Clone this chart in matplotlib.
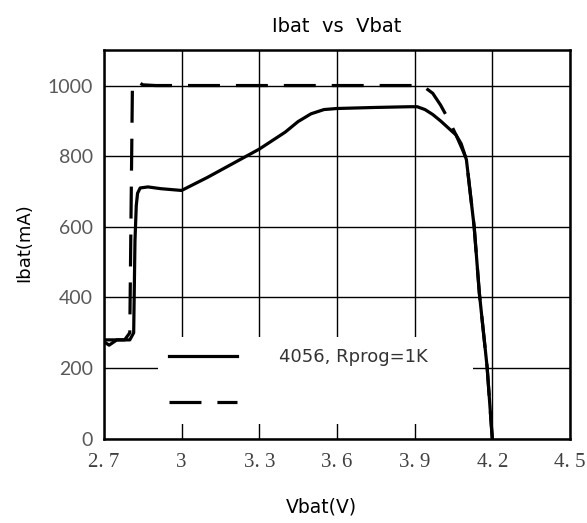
import numpy as np
import matplotlib
matplotlib.use('Agg')
import matplotlib.pyplot as plt

# charge current vs battery voltage
vbat_solid = [2.70, 2.72, 2.75, 2.80, 2.815, 2.82, 2.825, 2.83, 2.84, 2.87, 2.92, 3.00,
              3.10, 3.20, 3.30, 3.40, 3.45, 3.50, 3.55, 3.60, 3.75, 3.88, 3.91, 3.94,
              3.97, 4.00, 4.03, 4.06, 4.08, 4.10, 4.13, 4.15, 4.18, 4.20]
ibat_solid = [275, 265, 280, 280, 300, 560, 660, 695, 710, 713, 708, 703,
              740, 780, 820, 868, 898, 920, 932, 935, 938, 940, 940, 932,
              918, 900, 880, 860, 835, 790, 600, 412, 203, 0]

vbat_dash = [2.70, 2.78, 2.80, 2.805, 2.81, 2.815, 2.83, 2.85, 2.90, 3.30, 3.60, 3.93,
             3.97, 4.00, 4.03, 4.06, 4.09, 4.10, 4.13, 4.15, 4.18, 4.20]
ibat_dash = [280, 280, 300, 650, 990, 1008, 1012, 1002, 1000, 1000, 1000, 1000,
             978, 945, 905, 860, 810, 790, 600, 412, 203, 0]

xticks = [2.7, 3.0, 3.3, 3.6, 3.9, 4.2, 4.5]
xticklabels = ['2. 7', '3', '3. 3', '3. 6', '3. 9', '4. 2', '4. 5']
yticks = [0, 200, 400, 600, 800, 1000]

fig = plt.figure(figsize=(5.87, 5.23), dpi=100)
ax = fig.add_axes([0.177, 0.161, 0.794, 0.743])

ax.plot(vbat_solid, ibat_solid, color='black', lw=2.3, label='4056, Rprog=1K      ', zorder=3)
ax.plot(vbat_dash, ibat_dash, color='black', lw=2.3, ls=(0, (10, 5)), label=' ', zorder=3)

ax.set_xlim(2.7, 4.5)
ax.set_ylim(0, 1100)
ax.set_xticks(xticks)
ax.set_xticklabels(xticklabels, fontfamily='Liberation Serif', fontsize=15, color='#404040')
ax.set_yticks(yticks)
ax.set_yticklabels([str(v) for v in yticks], fontfamily='Lato', fontsize=14, color='#595959')
ax.tick_params(length=0, pad=10)
ax.tick_params(axis='y', pad=8)
ax.grid(True, color='black', lw=1.0, zorder=1)
ax.set_axisbelow(True)
for s in ax.spines.values():
    s.set_linewidth(1.8)

ax.set_title('Ibat  vs  Vbat', fontsize=14, fontfamily='DejaVu Sans', pad=13)
ax.set_xlabel('Vbat(V)', fontsize=13.5, fontfamily='DejaVu Sans')
ax.set_ylabel('Ibat(mA)', fontsize=13, fontfamily='DejaVu Sans')
ax.xaxis.set_label_coords(0.466, -0.152)
ax.yaxis.set_label_coords(-0.152, 0.504)

leg = ax.legend(loc='upper left', bbox_to_anchor=(0.116, 0.262), borderaxespad=0,
                frameon=True, facecolor='white', edgecolor='none', framealpha=1,
                fancybox=False, handlelength=3.8, handletextpad=2.3, labelspacing=1.6,
                borderpad=0.6, prop={'family': 'DejaVu Sans', 'size': 13})
for t in leg.get_texts():
    t.set_color('#333333')
leg.set_zorder(2)

fig.savefig('out.png', dpi=100)
